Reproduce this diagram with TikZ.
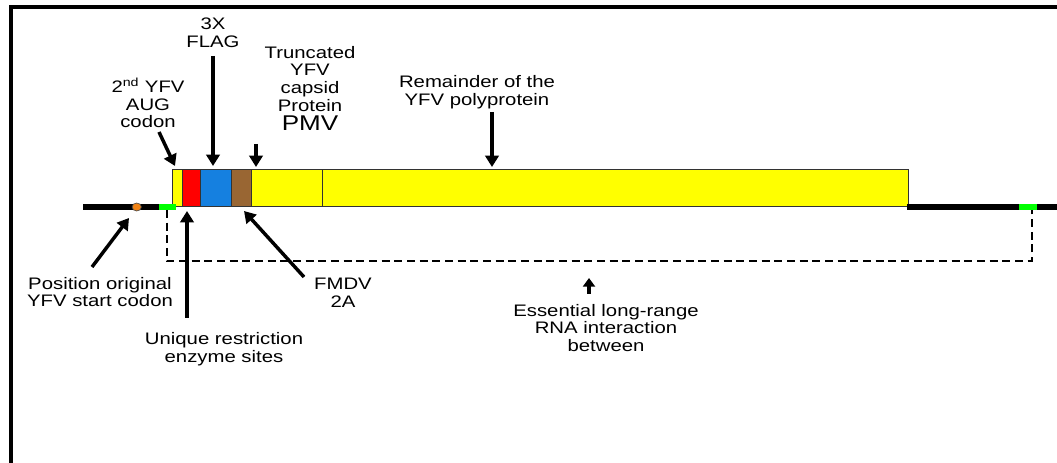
\documentclass[tikz,border=0pt]{standalone}
\usepackage{fontspec}
\setmainfont[FakeStretch=1.22]{Liberation Sans}
\usetikzlibrary{arrows.meta,shapes.geometric}
\definecolor{segyellow}{RGB}{255,255,0}
\definecolor{segred}{RGB}{255,0,0}
\definecolor{segblue}{RGB}{21,128,224}
\definecolor{segbrown}{RGB}{153,102,51}
\definecolor{rnagreen}{RGB}{0,255,0}
\definecolor{dotorange}{RGB}{240,130,20}
\begin{document}
\begin{tikzpicture}[x=0.75pt,y=-0.75pt,
  seg/.style={draw=black!80, line width=0.9pt, inner sep=0pt, minimum height=28.1pt, anchor=south west},
  lbl/.style={align=center, font=\fontsize{12.5}{13.2}\selectfont, inner sep=0pt},
  arr/.style={line width=2.6pt, -{Triangle[length=8.5pt,width=10pt]}},
  rna/.style={line width=4pt},
  dsh/.style={dash pattern=on 6pt off 3.5pt, line width=1.5pt}]
\useasboundingbox (0,0) rectangle (1057,463);
% frame
\draw[line width=3pt, line join=miter] (11,463) -- (11,7.5) -- (1057,7.5);

% backbone coordinates
\coordinate (bbL) at (83,207);
\coordinate (g1a) at (159,207);
\coordinate (g1b) at (176,207);
\coordinate (bR0) at (907,207);
\coordinate (g2a) at (1019,207);
\coordinate (g2b) at (1037,207);
\coordinate (bbR) at (1057,207);
\coordinate (g1m) at (166.7,210);
\coordinate (g2m) at (1031.7,210);
\coordinate (dl) at (166.7,261);
\coordinate (dr) at (1031.7,261);

% segments
\node[seg, fill=segyellow, minimum width=7.7pt]   (s0) at (171.7,207.5) {};
\node[seg, fill=segred,    minimum width=13.5pt]  (s1) at (182,207.5) {};
\node[seg, fill=segblue,   minimum width=23.25pt] (s2) at (200,207.5) {};
\node[seg, fill=segbrown,  minimum width=15pt]    (s3) at (231,207.5) {};
\node[seg, fill=segyellow, minimum width=53.25pt] (s4) at (251,207.5) {};
\node[seg, fill=segyellow, minimum width=439.5pt] (s5) at (322,207.5) {};

% backbone
\draw[rna] (bbL) -- (g1a);
\draw[rna, rnagreen] (g1a) -- (g1b);
\draw[rna] (bR0) -- (g2a);
\draw[rna, rnagreen] (g2a) -- (g2b);
\draw[rna] (g2b) -- (bbR);
\node[ellipse, draw=black!70, line width=0.5pt, fill=dotorange, minimum width=7pt, minimum height=6pt, inner sep=0pt] (dot) at (136.7,207) {};

% dashed interaction
\draw[dsh] (g1m) -- (dl) -- (dr) -- (g2m);

% labels
\node[lbl] (flag) at (213,33) {3X\\FLAG};
\node[lbl] (aug) at (148,103) {2\textsuperscript{nd} YFV\\AUG\\codon};
\node[lbl, anchor=north] (trunc) at (310,46) {Truncated\\YFV\\capsid\\Protein\\[1pt]{\fontsize{16}{16}\selectfont PMV}};
\node[lbl] (rem) at (477,92) {Remainder of the\\YFV polyprotein};
\node[lbl] (pos) at (100,292) {Position original\\YFV start codon};
\node[lbl] (uniq) at (224,349) {Unique restriction\\enzyme sites};
\node[lbl] (fmdv) at (343,293) {FMDV\\2A};
\node[lbl] (ess) at (606,328) {Essential long-range\\RNA interaction\\between};

% arrow coordinates
\coordinate (a1t) at (159,132); \coordinate (a1h) at (175,166);
\coordinate (a2t) at (213,56);  \coordinate (a2h) at (213,166);
\coordinate (a3t) at (256,144); \coordinate (a3h) at (256,167);
\coordinate (a4t) at (492,112); \coordinate (a4h) at (492,167);
\coordinate (a5t) at (92,267);  \coordinate (a5h) at (129,218);
\coordinate (a6t) at (187,318); \coordinate (a6h) at (187,211);
\coordinate (a7t) at (304,277); \coordinate (a7h) at (244,211);
\coordinate (a8t) at (589,294); \coordinate (a8h) at (589,278);

\draw[arr] (a1t) -- (a1h);
\draw[arr] (a2t) -- (a2h);
\draw[arr] (a3t) -- (a3h);
\draw[arr] (a4t) -- (a4h);
\draw[arr] (a5t) -- (a5h);
\draw[arr] (a6t) -- (a6h);
\draw[arr] (a7t) -- (a7h);
\draw[line width=2.6pt, -{Triangle[length=6.5pt,width=9pt]}] (a8t) -- (a8h);
\end{tikzpicture}
\end{document}
